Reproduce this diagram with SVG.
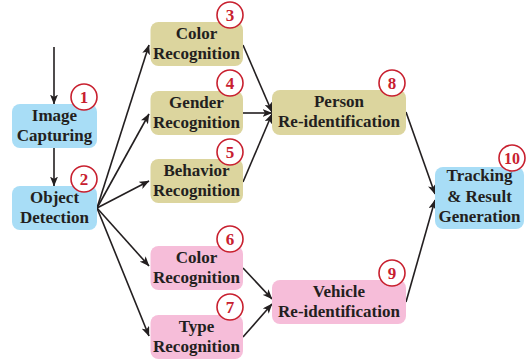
<svg xmlns="http://www.w3.org/2000/svg" width="532" height="362" viewBox="0 0 532 362">
<defs>
<style>
.blue{fill:#a8ddf6}
.olive{fill:#dcd59e}
.pink{fill:#f6bdd9}
.t{font-family:"Liberation Serif","Times New Roman",serif;font-weight:bold;font-size:17px;fill:#231f20;text-anchor:middle}
.n{font-family:"Liberation Serif","Times New Roman",serif;font-weight:bold;font-size:17px;fill:#c8202f;text-anchor:middle}
.c{fill:#ffffff;stroke:#c8202f;stroke-width:1.6}
.e{stroke:#231f20;stroke-width:1.6;fill:none;marker-end:url(#ah)}
</style>
<marker id="ah" viewBox="0 0 10 8" refX="9.5" refY="4" markerWidth="10" markerHeight="8" markerUnits="userSpaceOnUse" orient="auto">
<path d="M0,0 L10,4 L0,8 L2.5,4 Z" fill="#231f20"/>
</marker>
</defs>
<g id="connectors">
<line class="e" x1="54" y1="47" x2="54" y2="104"/>
<line class="e" x1="54" y1="148" x2="54" y2="186"/>
<line class="e" x1="97" y1="208" x2="149" y2="45"/>
<line class="e" x1="97" y1="208" x2="149" y2="114"/>
<line class="e" x1="97" y1="208" x2="149" y2="181"/>
<line class="e" x1="97" y1="208" x2="149" y2="266"/>
<line class="e" x1="97" y1="208" x2="149" y2="336"/>
<line class="e" x1="243" y1="45" x2="272" y2="112"/>
<line class="e" x1="243" y1="113" x2="272" y2="113"/>
<line class="e" x1="243" y1="182" x2="272" y2="114"/>
<line class="e" x1="243" y1="268" x2="272" y2="299"/>
<line class="e" x1="243" y1="337" x2="272" y2="304"/>
<line class="e" x1="406" y1="112" x2="435" y2="194"/>
<line class="e" x1="406" y1="302" x2="435" y2="200"/>
</g>
<g id="n1">
<rect class="blue" x="12" y="104" width="85" height="44" rx="8"/>
<text class="t" x="54.5" y="120.5">Image</text>
<text class="t" x="54.5" y="140.5">Capturing</text>
<circle class="c" cx="84" cy="97" r="13"/>
<text class="n" x="84" y="103">1</text>
</g>
<g id="n2">
<rect class="blue" x="12" y="186" width="85" height="44" rx="8"/>
<text class="t" x="54.5" y="202.5">Object</text>
<text class="t" x="54.5" y="222.5">Detection</text>
<circle class="c" cx="84" cy="179" r="13"/>
<text class="n" x="84" y="185">2</text>
</g>
<g id="n3">
<rect class="olive" x="150.5" y="22" width="92.5" height="44" rx="8"/>
<text class="t" x="196.5" y="38.5">Color</text>
<text class="t" x="196.5" y="58.5">Recognition</text>
<circle class="c" cx="230" cy="15" r="13"/>
<text class="n" x="230" y="21">3</text>
</g>
<g id="n4">
<rect class="olive" x="150.5" y="91" width="92.5" height="44" rx="8"/>
<text class="t" x="196.5" y="107.5">Gender</text>
<text class="t" x="196.5" y="127.5">Recognition</text>
<circle class="c" cx="230" cy="83" r="13"/>
<text class="n" x="230" y="89">4</text>
</g>
<g id="n5">
<rect class="olive" x="150.5" y="159" width="92.5" height="44" rx="8"/>
<text class="t" x="196.5" y="175.5">Behavior</text>
<text class="t" x="196.5" y="195.5">Recognition</text>
<circle class="c" cx="230" cy="152" r="13"/>
<text class="n" x="230" y="158">5</text>
</g>
<g id="n6">
<rect class="pink" x="150.5" y="246" width="92.5" height="44" rx="8"/>
<text class="t" x="196.5" y="262.5">Color</text>
<text class="t" x="196.5" y="282.5">Recognition</text>
<circle class="c" cx="230" cy="239" r="13"/>
<text class="n" x="230" y="245">6</text>
</g>
<g id="n7">
<rect class="pink" x="150.5" y="315" width="92.5" height="44" rx="8"/>
<text class="t" x="196.5" y="331.5">Type</text>
<text class="t" x="196.5" y="351.5">Recognition</text>
<circle class="c" cx="230" cy="307" r="13"/>
<text class="n" x="230" y="313">7</text>
</g>
<g id="n8">
<rect class="olive" x="272" y="90" width="134" height="45" rx="8"/>
<text class="t" x="339" y="107">Person</text>
<text class="t" x="339" y="127">Re-identification</text>
<circle class="c" cx="392" cy="83" r="13"/>
<text class="n" x="392" y="89">8</text>
</g>
<g id="n9">
<rect class="pink" x="272" y="280" width="134" height="44" rx="8"/>
<text class="t" x="339" y="296.5">Vehicle</text>
<text class="t" x="339" y="316.5">Re-identification</text>
<circle class="c" cx="392" cy="273" r="13"/>
<text class="n" x="392" y="279">9</text>
</g>
<g id="n10">
<rect class="blue" x="435" y="167" width="89" height="62" rx="8"/>
<text class="t" x="479.5" y="181">Tracking</text>
<text class="t" x="479.5" y="201.5">&amp; Result</text>
<text class="t" x="479.5" y="222">Generation</text>
<circle class="c" cx="512" cy="158" r="13"/>
<text class="n" x="512" y="164" style="font-size:16px">10</text>
</g>
</svg>
